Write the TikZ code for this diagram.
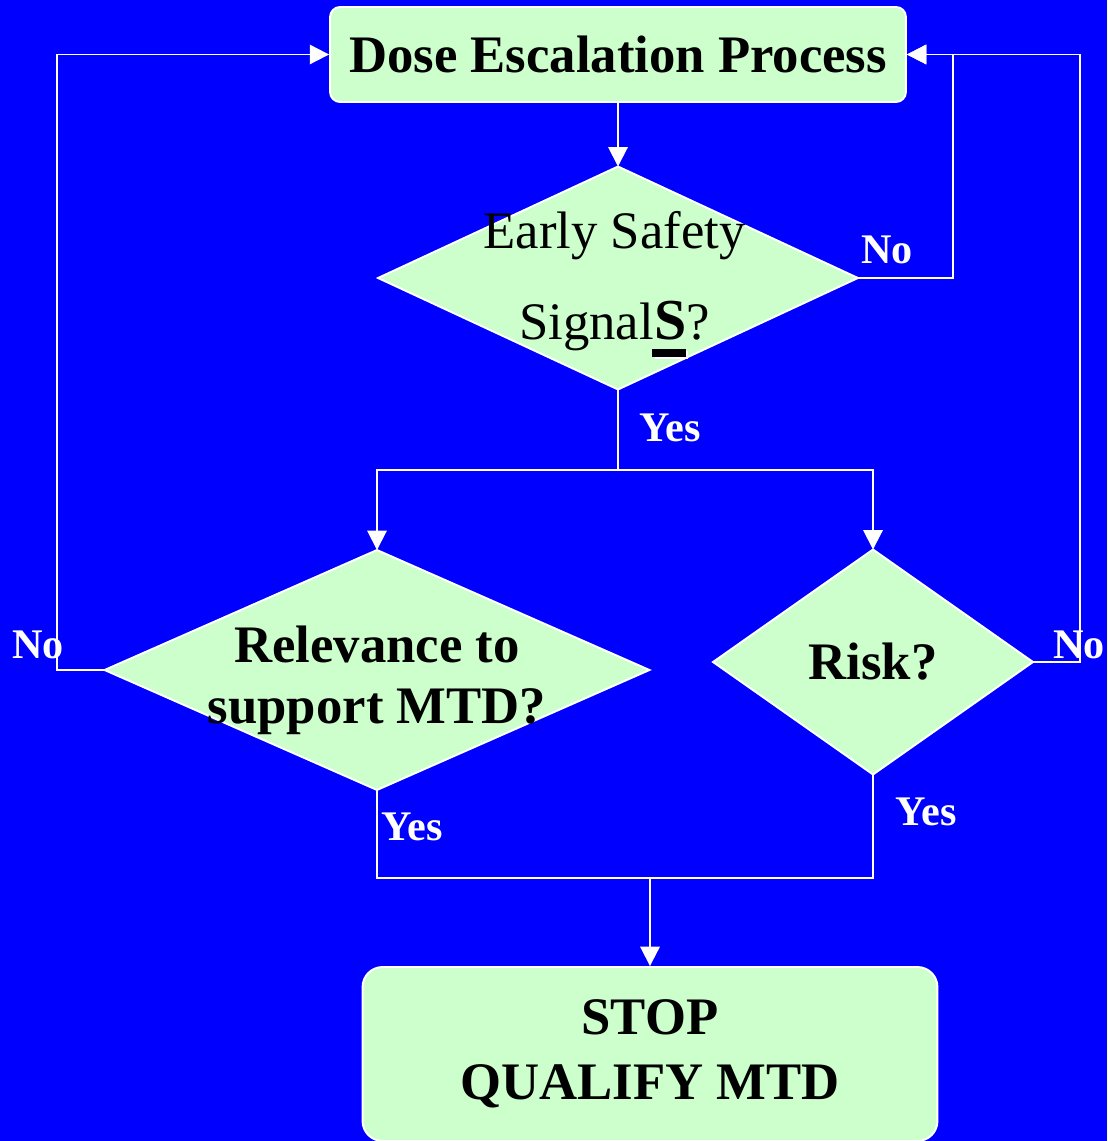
\documentclass[tikz,border=0pt]{standalone}
\usepackage{fontspec}
\setmainfont{Liberation Serif}
\usepackage{xcolor}
\usetikzlibrary{shapes.geometric,arrows.meta}

\definecolor{slideblue}{RGB}{0,0,255}
\definecolor{boxgreen}{RGB}{204,255,204}

% bold S with a thick shadowed underline
\newcommand{\signalS}{%
  \makebox[0pt][l]{\hspace{0.3pt}\color{white}\rule[-10.9pt]{19pt}{4.5pt}}%
  \makebox[0pt][l]{\hspace{-1pt}\rule[-9.6pt]{19pt}{4.5pt}}%
  {\fontsize{33}{52}\selectfont\bfseries S}}

\begin{document}
\begin{tikzpicture}[x=0.02cm,y=-0.02cm,
    flow/.style={draw=white,line width=1.1pt,-{Triangle[width=11pt,length=11pt]}},
    line/.style={draw=white,line width=1.1pt},
    procbox/.style={rectangle,draw=white,line width=1.1pt,fill=boxgreen,
      inner sep=0pt,font=\fontsize{30}{37}\selectfont\bfseries},
    decision/.style={diamond,draw=white,line width=1.1pt,fill=boxgreen,
      inner sep=0pt,outer sep=0pt},
    answer/.style={text=white,inner sep=0pt,font=\fontsize{24}{26}\selectfont\bfseries}]
    % Background
    \fill[slideblue] (0,0) rectangle (1107,1141);
    \useasboundingbox (0,0) rectangle (1107,1141);
    % Boxes and decisions
    \node[procbox,rounded corners=0.2cm,minimum width=11.52cm,minimum height=1.9cm] (dose) at (618,54.5) {Dose Escalation Process};
    \node[decision,minimum width=9.6cm,minimum height=4.46cm,
      label={[align=center,font=\fontsize{30}{52}\selectfont,xshift=-2pt,yshift=-4pt]center:{Early Safety\\Signal\signalS?}}] (signal) at (618,278) {};
    \node[decision,minimum width=10.9cm,minimum height=4.8cm,
      label={[align=center,font=\fontsize{30}{35}\selectfont\bfseries,yshift=-6pt]center:{Relevance to\\support MTD?}}] (relev) at (377,670) {};
    \node[decision,minimum width=6.4cm,minimum height=4.5cm,
      label={[font=\fontsize{30}{35}\selectfont\bfseries]center:Risk?}] (risk) at (873,662) {};
    \node[procbox,rounded corners=0.4cm,minimum width=11.5cm,minimum height=3.48cm,align=center] (stop) at (650,1054) {STOP\\QUALIFY MTD};
    % Connectors
    \draw[flow] (dose.south) -- (signal.north);
    \draw[flow] (signal.east) -- ++(95,0) |- (dose.east);
    \draw[line] (signal.south) -- (618,470) coordinate (split);
    \draw[flow] (split) -| (relev.north);
    \draw[flow] (split) -| (risk.north);
    \draw[flow] (relev.west) -- ++(-48,0) |- (dose.west);
    \draw[flow] (risk.east) -- ++(47,0) |- (dose.east);
    \coordinate (merge) at (650,878);
    \draw[line] (relev.south) |- (merge);
    \draw[line] (risk.south) |- (merge);
    \draw[flow] (merge) -- (stop.north);
    % Answers
    \node[answer] (nosafe) at (887,250) {No};
    \node[answer] (yessafe) at (670,428) {Yes};
    \node[answer] (norelev) at (38,645) {No};
    \node[answer] (norisk) at (1079,645) {No};
    \node[answer] (yesrelev) at (412,827) {Yes};
    \node[answer] (yesrisk) at (926,812) {Yes};
\end{tikzpicture}
\end{document}
